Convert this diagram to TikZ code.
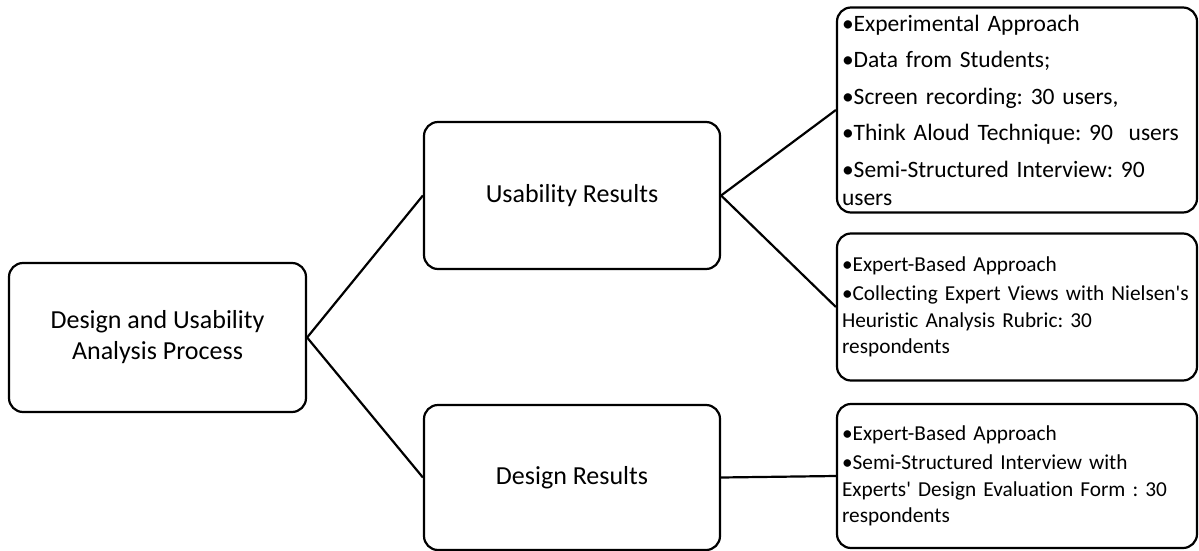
\documentclass[tikz,border=0pt]{standalone}
\usepackage{fontspec}
\setmainfont{Carlito}[Ligatures={NoCommon}]
\usetikzlibrary{positioning}
\frenchspacing

\begin{document}
\begin{tikzpicture}[x=1pt, y=-1pt,
        box/.style={draw, line width=2.2pt, rounded corners=14pt, align=center, inner sep=0pt, font=\fontsize{26}{31}\selectfont},
        leaf/.style={draw, line width=2.2pt, rounded corners=14pt, align=left, inner sep=5pt, text width=350pt, minimum width=360pt}]
    \useasboundingbox (0,0) rectangle (1199,551);

    \node[box, minimum width=297pt, minimum height=149pt] (0) at (157.5, 337.5) {Design and Usability\\Analysis Process};
    \node[box, minimum width=296pt, minimum height=147pt] (1) at (572, 195.5) {Usability Results};
    \node[box, minimum width=296pt, minimum height=145pt] (2) at (572, 477.5) {Design Results};

    \node[leaf, minimum height=205pt, font=\fontsize{23.5}{28}\selectfont] (3) at (1017, 110)
        {•Experimental Approach\\[8.5pt]•Data from Students;\\[8.5pt]•Screen recording: 30 users,\\[8.5pt]•Think Aloud Technique: 90\ \ users\\[8.5pt]•Semi-Structured Interview: 90\\users};
    \node[leaf, minimum height=147pt, font=\fontsize{21.3}{26.5}\selectfont] (4) at (1017, 307)
        {•Expert-Based Approach\\[3pt]•Collecting Expert Views with Nielsen\textquotesingle s\\Heuristic Analysis Rubric: 30\\respondents};
    \node[leaf, minimum height=144pt, font=\fontsize{21.3}{26.5}\selectfont] (5) at (1017, 476)
        {•Expert-Based Approach\\[3pt]•Semi-Structured Interview with\\Experts\textquotesingle{} Design Evaluation Form : 30\\respondents};

    \draw[line width=2.2pt]
    (0.east) edge (1.west)
    (0.east) edge (2.west)
    (1.east) edge (3.west)
    (1.east) edge (4.west)
    (2.east) edge (5.west);
\end{tikzpicture}
\end{document}
